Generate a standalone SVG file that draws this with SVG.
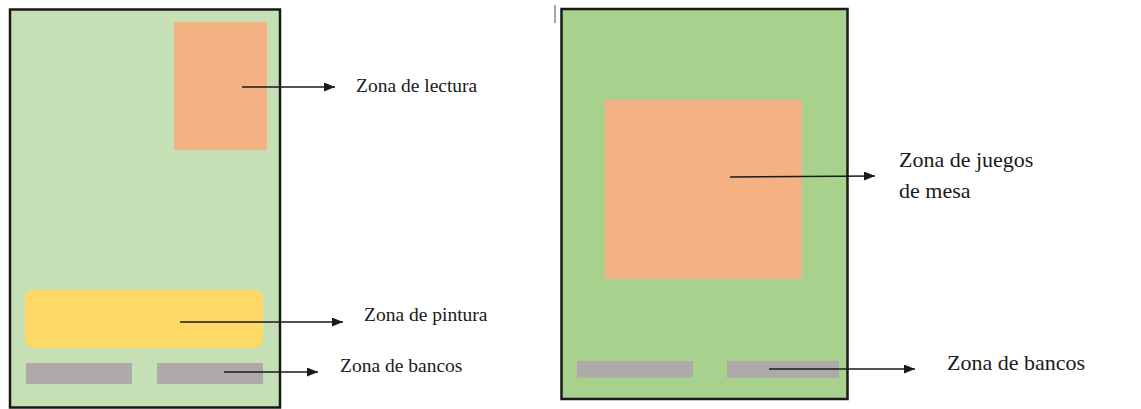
<svg xmlns="http://www.w3.org/2000/svg" width="1141" height="409" viewBox="0 0 1141 409">
<style>
.frame{stroke:#1a1a1a;stroke-width:2.5}
.orange{fill:#f4b183}
.yellow{fill:#ffd966}
.bench{fill:#aeaaaa}
.lbl{fill:#1a1a1a}
.arr{stroke:#1a1a1a;stroke-width:1.5;fill:none;marker-end:url(#ah)}
</style>
<defs>
<marker id="ah" markerUnits="userSpaceOnUse" markerWidth="12" markerHeight="10" refX="11" refY="4.5" orient="auto">
<path d="M0,0 L11,4.5 L0,9 z" fill="#1a1a1a"/>
</marker>
</defs>
<rect width="1141" height="409" fill="#ffffff"/>
<g id="plan-left">
<rect class="frame" x="10" y="9.5" width="270" height="398" fill="#c5e0b4"/>
<g id="zona-lectura"><rect class="orange" x="174" y="22" width="93" height="128"/></g>
<g id="zona-pintura"><rect class="yellow" x="25" y="290" width="238" height="58" rx="9"/></g>
<g id="bancos-left"><rect class="bench" x="26" y="363" width="106" height="21"/><rect class="bench" x="157" y="363" width="106" height="21"/></g>
</g>
<line x1="555" y1="5" x2="555" y2="23" stroke="#888" stroke-width="1.5"/>
<g id="plan-right">
<rect class="frame" x="561.5" y="9" width="286" height="390" fill="#a9d18e"/>
<g id="zona-juegos"><rect class="orange" x="605" y="100" width="197" height="179"/></g>
<g id="bancos-right"><rect class="bench" x="577" y="361" width="116" height="16.5"/><rect class="bench" x="727" y="361" width="112" height="17"/></g>
</g>
<g id="connectors">
<path class="arr" d="M242,87 L335,87"/>
<path class="arr" d="M180,322 L343,322"/>
<path class="arr" d="M224,372 L318,372"/>
<path class="arr" d="M730,177 L875,176"/>
<path class="arr" d="M769,369 L915,369"/>
</g>
<g id="labels" font-family="'Liberation Serif', 'DejaVu Serif', serif">
<text class="lbl" font-size="19.5" x="356" y="92">Zona de lectura</text>
<text class="lbl" font-size="19.5" x="364" y="321">Zona de pintura</text>
<text class="lbl" font-size="19.5" x="340" y="372">Zona de bancos</text>
<text class="lbl" font-size="22" x="899" y="167">Zona de juegos</text>
<text class="lbl" font-size="22" x="899" y="198">de mesa</text>
<text class="lbl" font-size="22" x="947" y="370">Zona de bancos</text>
</g>
</svg>
